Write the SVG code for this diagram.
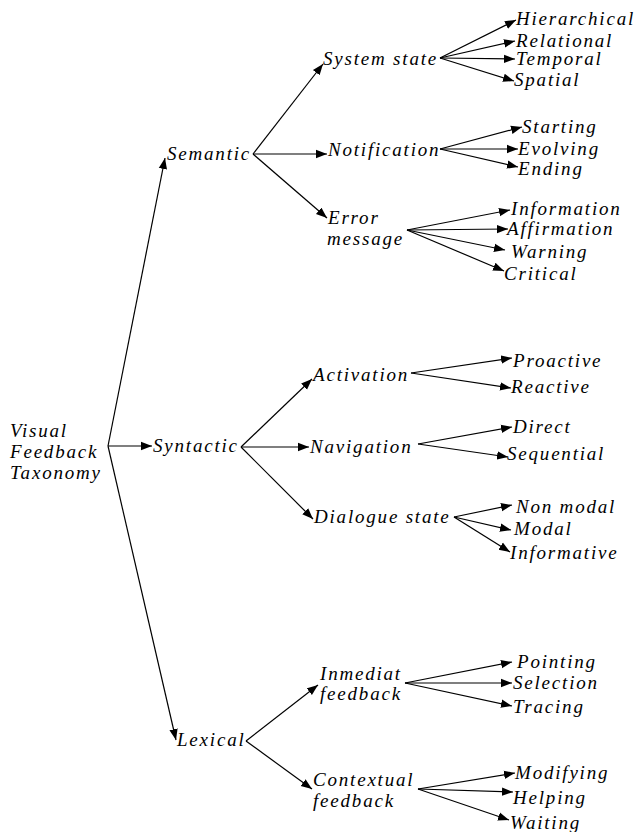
<svg xmlns="http://www.w3.org/2000/svg" width="637" height="832" viewBox="0 0 637 832">
<style>
text{font-family:'Liberation Serif','Times New Roman','DejaVu Serif',serif;font-style:italic;font-size:19px;letter-spacing:1.8px;fill:#000}
.c line{stroke:#000;stroke-width:1.2;marker-end:url(#ah)}
</style>
<defs>
<marker id="ah" markerUnits="userSpaceOnUse" markerWidth="12" markerHeight="10" viewBox="0 0 12 10" refX="11" refY="5" orient="auto">
<path d="M0,0.8 L11,5 L0,9.2 Z" fill="#000"/>
</marker>
</defs>
<rect width="637" height="832" fill="#fff"/>
<g class="c" id="connectors">
<line x1="108" y1="446" x2="165" y2="158"/>
<line x1="108" y1="446" x2="152" y2="446"/>
<line x1="108" y1="446" x2="176" y2="740"/>
<line x1="253" y1="154" x2="323" y2="64"/>
<line x1="253" y1="154" x2="327" y2="154"/>
<line x1="253" y1="154" x2="327" y2="218"/>
<line x1="440" y1="58" x2="516" y2="20"/>
<line x1="440" y1="58" x2="515" y2="41"/>
<line x1="440" y1="58" x2="515" y2="59"/>
<line x1="440" y1="58" x2="514" y2="81"/>
<line x1="440" y1="149" x2="522" y2="127"/>
<line x1="440" y1="149" x2="518" y2="149"/>
<line x1="440" y1="149" x2="518" y2="167"/>
<line x1="407" y1="230" x2="510" y2="210"/>
<line x1="407" y1="230" x2="508" y2="229"/>
<line x1="407" y1="230" x2="505" y2="250"/>
<line x1="407" y1="230" x2="504" y2="271"/>
<line x1="241" y1="447" x2="312" y2="379"/>
<line x1="241" y1="447" x2="309" y2="447"/>
<line x1="241" y1="447" x2="313" y2="519"/>
<line x1="411" y1="373" x2="512" y2="358"/>
<line x1="411" y1="373" x2="511" y2="388"/>
<line x1="418" y1="444" x2="512" y2="427"/>
<line x1="418" y1="444" x2="508" y2="457"/>
<line x1="454" y1="517" x2="512" y2="505"/>
<line x1="454" y1="517" x2="511" y2="530"/>
<line x1="454" y1="517" x2="510" y2="552"/>
<line x1="246" y1="741" x2="318" y2="685"/>
<line x1="246" y1="741" x2="312" y2="789"/>
<line x1="405" y1="683" x2="512" y2="662"/>
<line x1="405" y1="683" x2="512" y2="683"/>
<line x1="405" y1="683" x2="512" y2="706"/>
<line x1="418" y1="789" x2="515" y2="773"/>
<line x1="418" y1="789" x2="513" y2="792"/>
<line x1="418" y1="789" x2="509" y2="820"/>
</g>
<g id="root"><text x="10" y="437">Visual</text><text x="10" y="458">Feedback</text><text x="10" y="479">Taxonomy</text></g>
<g id="semantic"><text x="167" y="160">Semantic</text></g>
<g id="syntactic"><text x="153" y="452">Syntactic</text></g>
<g id="lexical"><text x="177" y="746">Lexical</text></g>
<g id="system-state"><text x="323" y="65">System state</text></g>
<g id="notification"><text x="328" y="156">Notification</text></g>
<g id="error-message"><text x="328" y="224">Error</text><text x="327" y="245">message</text></g>
<g id="hierarchical"><text x="516" y="25">Hierarchical</text></g>
<g id="relational"><text x="516" y="47">Relational</text></g>
<g id="temporal"><text x="516" y="65">Temporal</text></g>
<g id="spatial"><text x="514" y="86">Spatial</text></g>
<g id="starting"><text x="522" y="133">Starting</text></g>
<g id="evolving"><text x="518" y="155">Evolving</text></g>
<g id="ending"><text x="518" y="175">Ending</text></g>
<g id="information"><text x="511" y="215">Information</text></g>
<g id="affirmation"><text x="507" y="235">Affirmation</text></g>
<g id="warning"><text x="511" y="258">Warning</text></g>
<g id="critical"><text x="504" y="280">Critical</text></g>
<g id="activation"><text x="313" y="381">Activation</text></g>
<g id="navigation"><text x="310" y="453">Navigation</text></g>
<g id="dialogue-state"><text x="314" y="523">Dialogue state</text></g>
<g id="proactive"><text x="513" y="367">Proactive</text></g>
<g id="reactive"><text x="511" y="393">Reactive</text></g>
<g id="direct"><text x="513" y="433">Direct</text></g>
<g id="sequential"><text x="507" y="460">Sequential</text></g>
<g id="non-modal"><text x="516" y="513">Non modal</text></g>
<g id="modal"><text x="514" y="535">Modal</text></g>
<g id="informative"><text x="510" y="559">Informative</text></g>
<g id="inmediat-feedback"><text x="320" y="680">Inmediat</text><text x="320" y="700">feedback</text></g>
<g id="contextual-feedback"><text x="313" y="786">Contextual</text><text x="313" y="807">feedback</text></g>
<g id="pointing"><text x="517" y="668">Pointing</text></g>
<g id="selection"><text x="513" y="689">Selection</text></g>
<g id="tracing"><text x="513" y="713">Tracing</text></g>
<g id="modifying"><text x="515" y="779">Modifying</text></g>
<g id="helping"><text x="513" y="804">Helping</text></g>
<g id="waiting"><text x="510" y="829">Waiting</text></g>
</svg>
